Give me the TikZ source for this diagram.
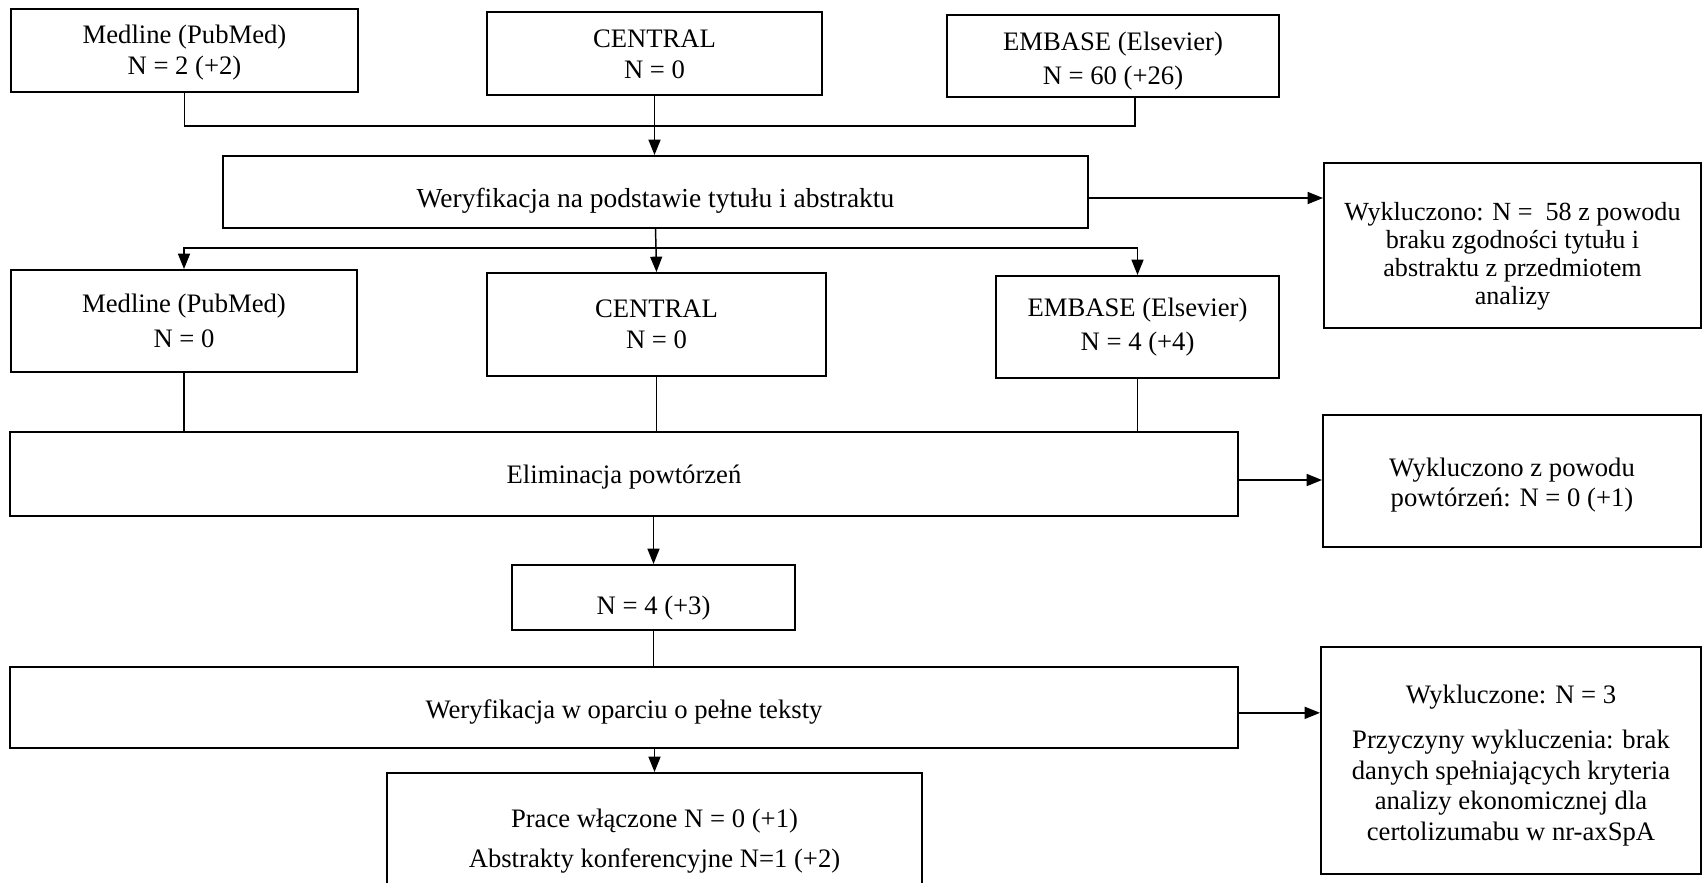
\documentclass[tikz,border=0pt]{standalone}
\usepackage{fontspec}
\setmainfont{Liberation Serif}
\usetikzlibrary{arrows.meta}
\tikzset{
  box/.style={draw, line width=1.5pt, inner sep=0pt},
  txt/.style={inner sep=0pt, align=center, font=\fontsize{20}{23}\selectfont},
  conn/.style={line width=1.1pt},
  arr/.style={conn, -{Triangle[length=11.5pt,width=9pt]}}
}
% [text style] name, left, top, right, bottom (px), text downward shift (px), text
\newcommand\boxtxt[8][]{%
  \node[box, minimum width={(#5-#3)*0.75pt}, minimum height={(#6-#4)*0.75pt}] (#2) at ({(#3+#5)/2},{(#4+#6)/2}) {};
  \node[txt,#1] (#2t) at ([yshift={-(#7)*0.75pt}]#2.center) {#8};}
\begin{document}
\begin{tikzpicture}[x=0.75pt,y=-0.75pt]
\useasboundingbox[fill=white] (0,0) rectangle (1703,882);
\boxtxt{m1}{11}{9}{358}{92}{2}{Medline (PubMed)\\N = 2 (+2)}
\boxtxt{c1}{487}{12}{822}{95}{1}{CENTRAL\\N = 0}
\boxtxt{e1}{947}{15}{1279}{97}{5}{EMBASE (Elsevier)\\[3pt]N = 60 (+26)}
\boxtxt[font=\fontsize{20.6}{23}\selectfont]{w1}{223}{156}{1088}{228}{9}{Weryfikacja na podstawie tytułu i abstraktu}
\boxtxt[font=\fontsize{19.6}{21}\selectfont]{x1}{1324}{163}{1701}{328}{11}{Wykluczono: N =~ 58 z powodu\\braku zgodności tytułu i\\abstraktu z przedmiotem\\analizy}
\boxtxt{m2}{11}{270}{357}{372}{0}{Medline (PubMed)\\[3pt]N = 0}
\boxtxt{c2}{487}{273}{826}{376}{0}{CENTRAL\\N = 0}
\boxtxt{e2}{996}{276}{1279}{378}{0}{EMBASE (Elsevier)\\[3pt]N = 4 (+4)}
\boxtxt{el}{10}{432}{1238}{516}{3}{Eliminacja powtórzeń}
\boxtxt{x2}{1323}{415}{1701}{547}{4}{Wykluczono z powodu\\powtórzeń: N = 0 (+1)}
\boxtxt{n4}{512}{565}{795}{630}{11}{N = 4 (+3)}
\boxtxt{w2}{10}{667}{1238}{748}{4}{Weryfikacja w oparciu o pełne teksty}
\boxtxt{x3}{1321}{647}{1701}{874}{5}{Wykluczone: N = 3\\[11pt]Przyczyny wykluczenia: brak\\danych spełniających kryteria\\analizy ekonomicznej dla\\certolizumabu w nr-axSpA}
\boxtxt{pr}{387}{773}{922}{905}{2}{Prace włączone N = 0 (+1)\\[7pt]Abstrakty konferencyjne N=1 (+2)}
% connectors
\coordinate (j1) at (1135,126);
\draw[conn] (m1.south) |- (j1) -- (j1 |- e1.south);
\draw[arr] (c1.south) -- (c1.south |- w1.north);
\coordinate (a1) at ([yshift=-4.5pt]w1.east);
\draw[arr] (a1) -- (a1 -| x1.west);
\coordinate (j2) at (656,248);
\draw[conn] (w1.south) -- (j2);
\draw[arr] (j2) -| (m2.north);
\draw[arr] (j2) -| (e2.north);
\draw[arr] (j2) -- (c2.north);
\draw[conn] (m2.south) -- (m2.south |- el.north);
\draw[conn] (c2.south) -- (c2.south |- el.north);
\draw[conn] (e2.south) -- (e2.south |- el.north);
\coordinate (a2) at ([yshift=-4.5pt]el.east);
\draw[arr] (a2) -- (a2 -| x2.west);
\draw[arr] (n4.north |- el.south) -- (n4.north);
\draw[conn] (n4.south) -- (n4.south |- w2.north);
\coordinate (a3) at ([yshift=-4pt]w2.east);
\draw[arr] (a3) -- (a3 -| x3.west);
\draw[arr] (pr.north |- w2.south) -- (pr.north);
\end{tikzpicture}
\end{document}
